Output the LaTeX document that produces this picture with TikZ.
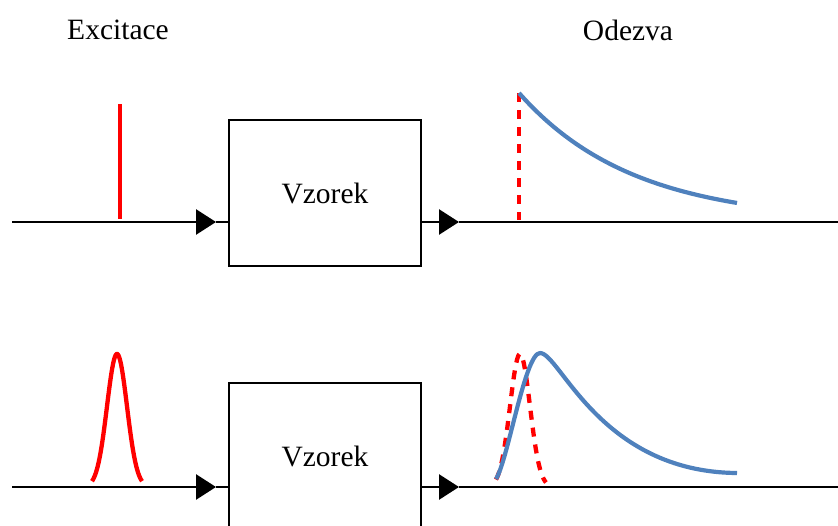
\documentclass[tikz,border=0pt]{standalone}
\usepackage{fontspec}
\setmainfont{Liberation Serif}
\usetikzlibrary{arrows.meta}
\definecolor{sigred}{RGB}{255,0,0}
\definecolor{sigblue}{RGB}{79,129,189}
\begin{document}
\begin{tikzpicture}[x=1pt,y=-1pt,
  axis/.style={line width=2.6pt,black},
  tipline/.style={axis,-{Triangle[length=20pt,width=25pt]}},
  sample/.style={draw,line width=1.6pt,minimum width=192pt,minimum height=146pt,inner sep=0pt,
    font=\fontsize{29.5}{35}\selectfont},
  heading/.style={font=\fontsize{29.5}{35}\selectfont,inner sep=0pt},
  exc/.style={sigred,line width=4.3pt},
  excd/.style={sigred,line width=4.3pt,dash pattern=on 9pt off 8pt},
  resp/.style={sigblue,line width=4.2pt,line join=round}]
\useasboundingbox (0,0) rectangle (838,525);
\clip (0,0) rectangle (838,525);
% headings
\node[heading] (h1) at (118,30) {Excitace};
\node[heading] (h2) at (628,30) {Odezva};
% top row
\node[sample] (b1) at (325,193) {Vzorek};
\coordinate (s1) at (12,222);
\coordinate (t1) at (216,222);
\coordinate (t2) at (459,222);
\coordinate (e1) at (838,222);
\draw[tipline] (s1) -- (t1);
\draw[axis] (t1) -- (b1.west |- s1);
\draw[tipline] (b1.east |- s1) -- (t2);
\draw[axis] (t2) -- (e1);
\draw[exc] (120,104) -- (120,219);
\draw[excd] (519,93) -- (519,220);
\draw[resp] plot[domain=519:737,samples=120] (\x,{222-129*exp(-(\x-519)/114)});
% bottom row
\node[sample] (b2) at (325,456) {Vzorek};
\coordinate (s2) at (12,487);
\coordinate (t3) at (216,487);
\coordinate (t4) at (459,487);
\coordinate (e2) at (838,487);
\draw[tipline] (s2) -- (t3);
\draw[axis] (t3) -- (b2.west |- s2);
\draw[tipline] (b2.east |- s2) -- (t4);
\draw[axis] (t4) -- (e2);
\draw[exc] plot[domain=92:142,samples=80] (\x,{487-133*exp(-((\x-117)*(\x-117))/200)});
\draw[excd] plot[domain=496:546,samples=80] (\x,{487-133*exp(-((\x-520)*(\x-520))/200)});
\draw[resp] (496,479) .. controls (508,460) and (525,353) .. (540,353)
  .. controls (560,353) and (600,472) .. (737,473);
\end{tikzpicture}
\end{document}
